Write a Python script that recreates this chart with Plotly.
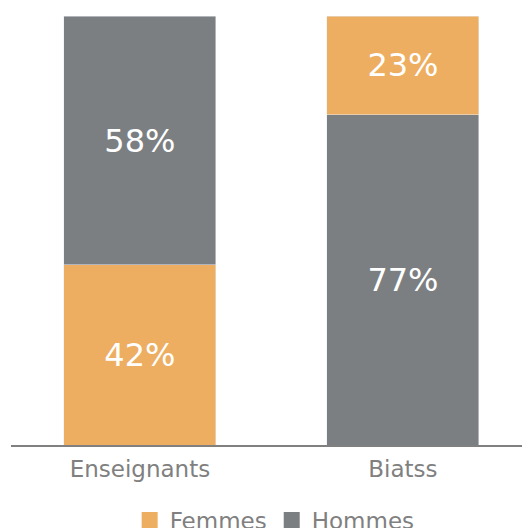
import plotly.graph_objects as go

categories = ["Enseignants", "Biatss"]
femmes = [42, 23]
hommes = [58, 77]
# series stacked at the bottom of each bar
bottom_series = ["Femmes", "Hommes"]

orange = "#EDAE61"
gris = "#7C7F82"
font = "DejaVu Sans"

values = {"Femmes": femmes, "Hommes": hommes}
colors = {"Femmes": orange, "Hommes": gris}

fig = go.Figure()
for i, cat in enumerate(categories):
    bas = bottom_series[i]
    haut = "Hommes" if bas == "Femmes" else "Femmes"
    for serie in (bas, haut):
        v = values[serie][i]
        fig.add_trace(go.Bar(x=[cat], y=[v], name=serie, marker_color=colors[serie],
                             text=[f"{v}%"], showlegend=False))
fig.update_traces(textposition="inside", insidetextanchor="middle",
                  textfont=dict(family=font, size=32, color="white"),
                  width=0.578, hoverinfo="skip", selector=dict(type="bar"))

# legend proxies (square markers, larger than the default bar swatch)
for name in ["Femmes", "Hommes"]:
    fig.add_trace(go.Scatter(x=[None], y=[None], mode="markers", name=name,
                             marker=dict(symbol="square", size=18, color=colors[name])))

fig.update_layout(
    width=522, height=520,
    barmode="stack",
    plot_bgcolor="white", paper_bgcolor="white",
    margin=dict(l=3, r=0, t=6, b=83, autoexpand=False),
    font=dict(family=font, color="#808080"),
    xaxis=dict(range=[-0.49, 1.483], showline=True, linecolor="#808080", linewidth=2,
               ticks="", ticklabelstandoff=2, tickfont=dict(size=23, color="#808080"),
               showgrid=False),
    yaxis=dict(range=[0, 100.5], visible=False, showgrid=False, zeroline=False),
    legend=dict(orientation="h", x=0.508, xanchor="center", y=-0.174, yanchor="middle",
                font=dict(size=23, color="#808080"), itemsizing="trace",
                itemwidth=30, traceorder="normal"),
)

fig.write_html("out.html")
